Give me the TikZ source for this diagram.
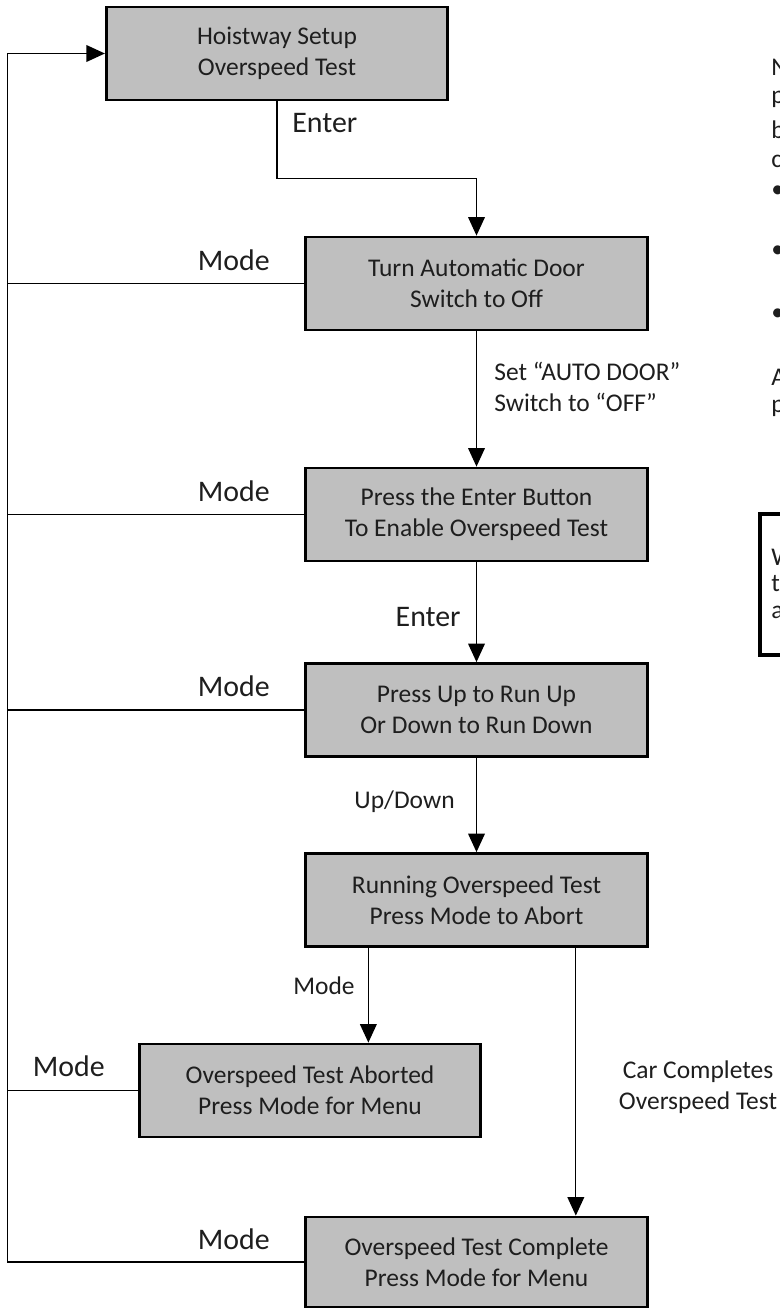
\documentclass[tikz,border=0pt]{standalone}
\usepackage{fontspec}
\setmainfont{Carlito}
\usepackage{tikz}
\usetikzlibrary{positioning,arrows.meta}
\definecolor{BoxGray}{RGB}{191,191,191}
\definecolor{InkGray}{RGB}{30,30,30}
\tikzset{
	stage/.style={draw=black,fill=BoxGray,line width=1.6pt,minimum width=6.83cm,
		minimum height=1.86cm,align=center,inner sep=0pt,text=InkGray,
		font=\fontsize{14.5pt}{17.6pt}\selectfont},
	link/.style={draw=black,line width=0.7pt},
	flow/.style={link,-{Triangle[length=10.5pt,width=9.5pt]}},
	key/.style={font=\fontsize{17pt}{20pt}\selectfont,text=InkGray,inner sep=0pt},
	cue/.style={font=\fontsize{14.5pt}{17.6pt}\selectfont,text=InkGray,inner sep=0pt,align=left},
}
\begin{document}
\begin{tikzpicture}[x=0.02cm,y=-0.02cm]
	\useasboundingbox (0,0) rectangle (780,1308);
	% stages
	\node[stage] (setup) at (277,53.5) {Hoistway Setup\\Overspeed Test};
	\node[stage] (door) at (476.5,283.5) {Turn Automatic Door\\Switch to Off};
	\node[stage] (enable) at (476.5,514.5) {Press the Enter Button\\To Enable Overspeed Test};
	\node[stage] (updown) at (476.5,710) {Press Up to Run Up\\Or Down to Run Down};
	\node[stage] (run) at (476.5,900) {Running Overspeed Test\\Press Mode to Abort};
	\node[stage] (abort) at (310,1090.5) {Overspeed Test Aborted\\Press Mode for Menu};
	\node[stage,minimum height=1.8cm] (done) at (476.5,1262) {Overspeed Test Complete\\Press Mode for Menu};
	% mode return rail
	\coordinate (rail) at (7.5,1262);
	\draw[flow] (done.west) -- (done.west -| rail) |- (setup.west);
	\foreach \s in {door,enable,updown,abort}
	\draw[link] (\s.west) -- (\s.west -| rail);
	\foreach \s/\x/\y in {door/270/260,enable/270/491,updown/270/686.5,abort/105/1066.5,done/270/1239}
	\node[key,anchor=east] (mode\s) at (\x,\y) {Mode};
	% forward steps
	\draw[flow] (setup.south) -- ++(0,77) -| (door.north);
	\node[key,anchor=west] (enter1) at (292,123) {Enter};
	\draw[flow] (door.south) -- (enable.north);
	\node[cue,anchor=west] (autodoor) at (494,386.5) {Set “AUTO DOOR”\\Switch to “OFF”};
	\draw[flow] (enable.south) -- (updown.north);
	\node[key,anchor=east] (enter2) at (461,617) {Enter};
	\draw[flow] (updown.south) -- (run.north);
	\node[cue,anchor=east] (updn) at (455,802) {Up/Down};
	\draw[flow] ([xshift=1.28cm]run.south west) coordinate (r1) -- (r1 |- abort.north);
	\node[cue,anchor=east] (modeabort) at (355,986) {Mode};
	\draw[flow] ([xshift=5.43cm]run.south west) coordinate (r2) -- (r2 |- done.north);
	\node[cue,align=center] (carok) at (698,1087) {Car Completes\\Overspeed Test};
	% cut-off notes at the right edge
	\foreach \t/\y in {N/67,p/99,b/130,c/161,•/192,•/252,•/315,A/377,p/408}
	\node[cue,anchor=west] (note\y) at (771,\y) {\t};
	\draw[line width=2.8pt] (760,514) rectangle (830,655);
	\foreach \t/\y in {W/557,t/584,a/612}
	\node[cue,anchor=west] (warn\y) at (771,\y) {\t};
\end{tikzpicture}
\end{document}
